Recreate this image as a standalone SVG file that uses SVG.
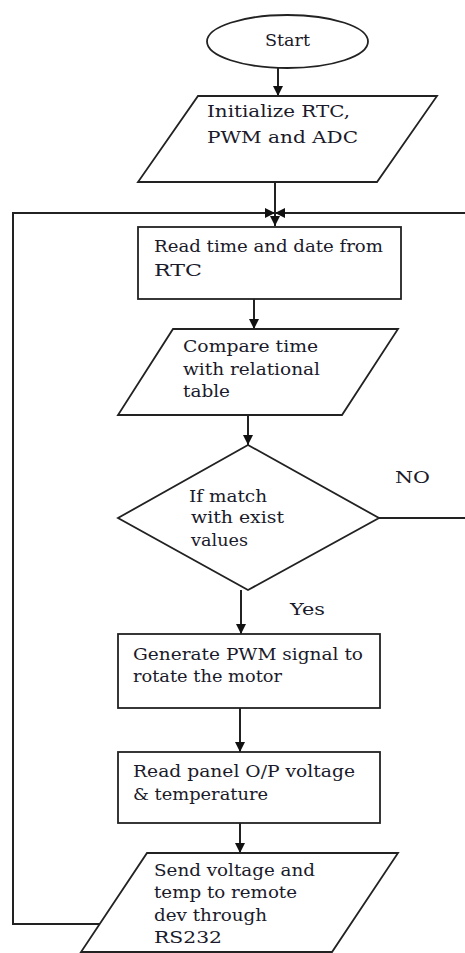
<svg xmlns="http://www.w3.org/2000/svg" width="465" height="953" viewBox="0 0 465 953">
<style>
.shape{fill:#fff;stroke:#222;stroke-width:1.8}
.conn{fill:none;stroke:#222;stroke-width:2}
text{font-family:"DejaVu Serif","Liberation Serif",serif;font-size:17px;fill:#1a1a2a}
</style>
<defs>
<marker id="arr" markerWidth="10" markerHeight="10" refX="10" refY="5" orient="auto" markerUnits="userSpaceOnUse">
<path d="M0,0 L10,5 L0,10 z" fill="#111"/>
</marker>
</defs>
<rect width="465" height="953" fill="#fff"/>
<g id="connectors">
<path class="conn" d="M278,68 V96" marker-end="url(#arr)"/>
<path class="conn" d="M275,182 V226" marker-end="url(#arr)"/>
<path class="conn" d="M100,924 H13 V213 H275" marker-end="url(#arr)"/>
<path class="conn" d="M379,518 H475 V213 H275" marker-end="url(#arr)"/>
<path class="conn" d="M254,299 V329" marker-end="url(#arr)"/>
<path class="conn" d="M248,415 V445" marker-end="url(#arr)"/>
<path class="conn" d="M241,590 V634" marker-end="url(#arr)"/>
<path class="conn" d="M240,708 V752" marker-end="url(#arr)"/>
<path class="conn" d="M240,823 V853" marker-end="url(#arr)"/>
<text x="395" y="483" textLength="35" lengthAdjust="spacingAndGlyphs">NO</text>
<text x="290" y="615" textLength="35" lengthAdjust="spacingAndGlyphs">Yes</text>
</g>
<g id="start">
<ellipse class="shape" cx="287.5" cy="41.5" rx="80.5" ry="26.5"/>
<text x="265" y="46" textLength="45" lengthAdjust="spacingAndGlyphs">Start</text>
</g>
<g id="init">
<polygon class="shape" points="198,96 437,96 377,182 138,182"/>
<text x="207" y="117" textLength="143" lengthAdjust="spacingAndGlyphs">Initialize RTC,</text>
<text x="207" y="143" textLength="151" lengthAdjust="spacingAndGlyphs">PWM and ADC</text>
</g>
<g id="readtime">
<rect class="shape" x="138" y="227" width="263" height="72"/>
<text x="154" y="252" textLength="229" lengthAdjust="spacingAndGlyphs">Read time and date from</text>
<text x="154" y="276" textLength="48" lengthAdjust="spacingAndGlyphs">RTC</text>
</g>
<g id="compare">
<polygon class="shape" points="173,329 398,329 342,415 118,415"/>
<text x="183" y="352" textLength="135" lengthAdjust="spacingAndGlyphs">Compare time</text>
<text x="183" y="375" textLength="137" lengthAdjust="spacingAndGlyphs">with relational</text>
<text x="183" y="397" textLength="47" lengthAdjust="spacingAndGlyphs">table</text>
</g>
<g id="decision">
<polygon class="shape" points="248,445 379,518 248,590 118,518"/>
<text x="189" y="502" textLength="78" lengthAdjust="spacingAndGlyphs">If match</text>
<text x="191" y="523" textLength="93" lengthAdjust="spacingAndGlyphs">with exist</text>
<text x="191" y="546" textLength="57" lengthAdjust="spacingAndGlyphs">values</text>
</g>
<g id="pwm">
<rect class="shape" x="118" y="634" width="262" height="74"/>
<text x="133" y="660" textLength="230" lengthAdjust="spacingAndGlyphs">Generate PWM signal to</text>
<text x="133" y="682" textLength="149" lengthAdjust="spacingAndGlyphs">rotate the motor</text>
</g>
<g id="readpanel">
<rect class="shape" x="118" y="752" width="262" height="71"/>
<text x="133" y="777" textLength="222" lengthAdjust="spacingAndGlyphs">Read panel O/P voltage</text>
<text x="133" y="800" textLength="135" lengthAdjust="spacingAndGlyphs">&amp; temperature</text>
</g>
<g id="send">
<polygon class="shape" points="147,853 398,853 332,952 81,952"/>
<text x="154" y="876" textLength="161" lengthAdjust="spacingAndGlyphs">Send voltage and</text>
<text x="154" y="898" textLength="143" lengthAdjust="spacingAndGlyphs">temp to remote</text>
<text x="154" y="921" textLength="113" lengthAdjust="spacingAndGlyphs">dev through</text>
<text x="154" y="943" textLength="68" lengthAdjust="spacingAndGlyphs">RS232</text>
</g>
</svg>
